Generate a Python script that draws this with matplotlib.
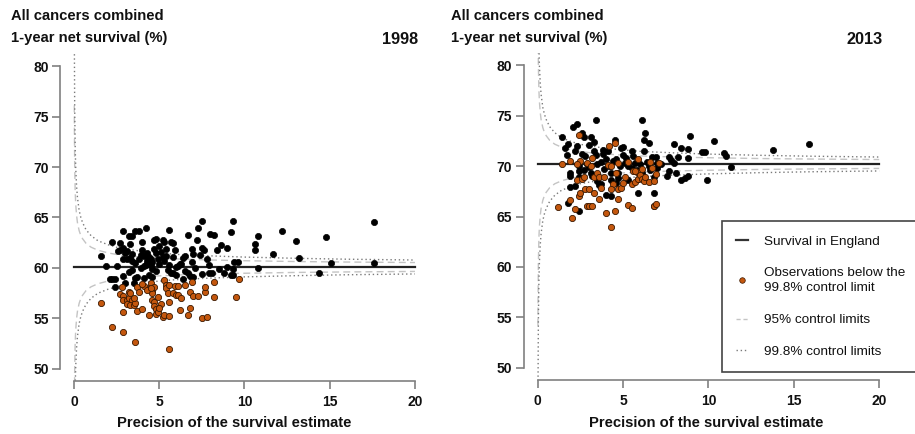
import matplotlib
matplotlib.use('Agg')
import matplotlib.pyplot as plt
from matplotlib.lines import Line2D

plt.rcParams['font.family'] = ['Liberation Sans', 'DejaVu Sans']

# ---- data ----
mean_1998 = 60.1
mean_2013 = 70.2

# precision grid and half-widths of the control limits (read from the funnel)
limit_prec = [0.015, 0.02, 0.04, 0.07, 0.1, 0.15, 0.2, 0.3, 0.4, 0.5, 0.7, 1.0, 1.4,
              2.0, 2.5, 3.0, 4.0, 5.0, 6.0, 8.0, 10.0, 13.0, 16.0, 20.0]
half_998 = [25.2, 21.8, 15.5, 11.7, 9.8, 8.0, 6.9, 5.6, 4.9, 4.4, 3.7, 3.1, 2.6,
            2.2, 1.95, 1.8, 1.55, 1.4, 1.25, 1.1, 0.98, 0.86, 0.77, 0.69]
half_95 = [16.0, 13.9, 9.8, 7.4, 6.2, 5.1, 4.4, 3.6, 3.1, 2.8, 2.35, 1.96, 1.66,
           1.39, 1.24, 1.13, 0.98, 0.88, 0.8, 0.69, 0.62, 0.54, 0.49, 0.44]

prec_1998_ok = [1.6, 1.9, 2.2, 2.5, 2.2, 2.4, 2.4, 2.9, 2.7, 2.7, 2.9, 2.9, 3.1, 2.9, 3.0, 3.1,
                3.2, 3.4, 3.3, 3.4, 3.4, 3.4, 3.6, 3.5, 3.6, 3.8, 4.0, 4.0, 4.2, 3.8, 3.9, 4.1,
                4.1, 4.3, 4.3, 4.4, 4.5, 4.6, 4.7, 4.7, 4.8, 4.8, 4.9, 4.6, 5.0, 5.2, 5.2, 5.3,
                5.6, 5.4, 5.4, 5.6, 5.7, 5.8, 5.9, 5.8, 5.7, 5.8, 6.0, 6.2, 6.3, 6.5, 6.5, 6.4,
                6.7, 6.9, 7.0, 6.9, 6.7, 6.8, 7.0, 7.2, 7.3, 7.5, 7.4, 7.5, 7.6, 7.5, 7.9, 8.0,
                8.2, 7.9, 8.1, 8.4, 8.6, 8.8, 9.0, 9.0, 9.2, 9.3, 9.2, 9.3, 9.3, 9.4, 9.6, 10.6,
                10.6, 10.8, 10.8, 11.7, 12.2, 13.0, 13.2, 14.4, 14.8, 15.1, 17.6, 17.6,
                3.3, 3.6, 4.1, 4.3, 4.5, 4.6, 4.2, 3.9, 5.1, 5.3, 5.5, 6.1, 6.0, 2.6, 3.0, 3.2,
                4.8, 5.0, 6.4, 7.1, 7.8, 8.5, 2.1, 3.7, 4.4]
surv_1998_ok = [61.2, 60.2, 62.6, 60.2, 58.9, 58.9, 58.1, 63.7, 62.5, 61.8, 62.0, 60.9, 60.9, 59.2, 58.5, 61.7,
                63.2, 63.2, 62.4, 61.4, 60.7, 59.8, 59.0, 58.5, 63.7, 63.7, 61.8, 62.6, 64.0, 60.9, 60.0, 60.2,
                59.0, 60.7, 60.4, 61.1, 60.3, 59.9, 61.9, 62.8, 62.9, 61.5, 60.9, 59.1, 60.4, 61.1, 62.8, 62.6,
                63.8, 61.9, 61.2, 60.3, 62.6, 62.5, 61.8, 61.1, 59.5, 59.5, 60.1, 60.4, 60.4, 61.2, 59.7, 58.9,
                63.3, 61.9, 61.4, 60.6, 59.5, 59.2, 59.1, 62.8, 64.0, 64.7, 61.3, 62.0, 61.8, 59.4, 59.5, 63.4,
                63.3, 60.3, 59.5, 61.8, 62.3, 59.5, 62.0, 60.1, 63.6, 64.7, 59.3, 59.3, 59.9, 60.6, 60.6, 62.4,
                61.8, 63.2, 60.0, 61.4, 63.7, 62.7, 61.0, 59.5, 63.1, 60.5, 64.6, 60.5,
                61.0, 60.5, 61.2, 61.5, 60.9, 60.6, 60.3, 61.3, 61.6, 60.7, 59.8, 60.2, 59.3, 61.7, 61.5, 59.6,
                59.7, 62.2, 61.0, 60.0, 60.9, 59.9, 58.9, 59.1, 59.3]

prec_1998_low = [1.6, 2.2, 2.9, 3.6, 5.6, 2.8, 2.7, 2.9, 2.9, 3.1, 3.2, 3.2, 3.3, 3.4, 3.1, 3.3,
                 3.5, 3.6, 2.9, 3.7, 3.7, 3.8, 4.0, 4.1, 4.4, 4.5, 4.5, 4.6, 4.6, 4.6, 4.7, 4.7,
                 4.8, 4.8, 4.9, 4.9, 5.1, 5.2, 5.3, 5.3, 5.4, 5.4, 5.5, 5.6, 5.6, 5.6, 5.8, 5.9,
                 6.0, 6.1, 6.1, 6.2, 6.5, 6.7, 6.8, 6.9, 6.8, 7.0, 7.3, 7.5, 7.8, 7.7, 7.7, 8.2,
                 8.2, 9.5, 9.7, 4.3, 4.7, 4.5, 3.5, 4.0, 5.0, 6.3]
surv_1998_low = [56.5, 54.2, 53.7, 52.7, 52.0, 58.1, 57.4, 57.2, 56.8, 56.8, 57.0, 57.6, 57.5, 56.8, 56.4, 56.3,
                 56.3, 56.5, 55.6, 55.7, 58.1, 57.6, 55.9, 58.2, 55.3, 58.2, 58.5, 57.7, 57.5, 56.8, 56.6, 56.2,
                 55.9, 55.4, 55.6, 57.1, 56.4, 55.1, 55.3, 58.8, 58.3, 58.0, 57.5, 56.6, 55.2, 58.3, 57.5, 58.2,
                 57.3, 57.3, 58.2, 55.8, 58.3, 55.3, 56.0, 58.6, 57.6, 57.2, 57.2, 55.0, 55.1, 57.6, 58.1, 57.1,
                 58.6, 57.1, 58.9, 57.8, 58.1, 58.0, 57.0, 58.4, 56.0, 57.0]

prec_2013_ok = [1.45, 1.6, 1.8, 1.7, 1.9, 1.9, 1.9, 1.8, 2.05, 2.3, 2.3, 2.2, 2.4, 2.4, 2.4, 2.2,
                2.4, 2.6, 2.7, 3.0, 3.1, 3.3, 3.4, 3.3, 3.4, 2.8, 2.9, 2.7, 3.1, 3.2, 3.5, 3.6,
                3.7, 3.8, 3.8, 4.1, 4.0, 3.7, 3.9, 4.2, 4.3, 4.3, 4.5, 4.3, 4.0, 4.6, 4.7, 4.7,
                4.9, 5.0, 5.0, 5.1, 5.2, 5.3, 5.3, 5.5, 5.6, 5.7, 5.9, 5.8, 6.0, 6.1, 6.2, 6.2,
                6.3, 6.5, 6.4, 6.6, 6.7, 6.8, 6.8, 6.9, 7.0, 7.2, 7.6, 7.7, 7.7, 7.8, 8.0, 8.0,
                8.1, 8.2, 8.4, 8.4, 8.6, 8.8, 8.8, 8.9, 8.8, 9.6, 9.8, 9.9, 10.3, 10.9, 11.0, 11.3,
                13.8, 15.9, 4.4, 4.8, 5.5, 6.1, 3.5, 3.0, 6.5, 7.0, 2.6, 4.6, 5.9, 6.8]
surv_2013_ok = [72.9, 71.8, 72.2, 71.1, 69.3, 69.0, 67.9, 66.3, 73.9, 74.2, 72.0, 71.5, 70.0, 69.5, 68.9, 68.0,
                65.5, 73.3, 72.9, 72.1, 72.9, 72.4, 74.6, 71.5, 71.1, 71.0, 70.2, 69.6, 69.3, 69.0, 68.5, 68.1,
                68.2, 71.2, 71.6, 71.5, 70.7, 70.4, 69.7, 70.0, 69.3, 68.6, 72.6, 67.0, 67.1, 70.7, 69.3, 68.8,
                71.8, 71.9, 71.1, 70.3, 70.8, 70.0, 68.6, 71.5, 71.0, 70.3, 67.3, 69.6, 70.2, 74.6, 72.6, 71.5,
                73.3, 72.3, 70.4, 69.6, 70.9, 67.3, 66.0, 70.9, 70.3, 70.2, 69.0, 70.9, 69.5, 70.6, 72.2, 70.3,
                69.3, 70.9, 71.8, 68.6, 68.8, 71.7, 70.8, 73.0, 69.0, 71.4, 71.4, 68.6, 72.5, 71.3, 71.0, 69.9,
                71.6, 72.2, 70.5, 70.0, 69.8, 69.3, 70.2, 69.9, 70.0, 69.8, 71.2, 68.3, 68.7, 68.9]

prec_2013_low = [1.4, 1.2, 2.0, 1.9, 2.2, 2.4, 2.5, 2.4, 2.5, 2.3, 2.3, 2.6, 2.7, 2.8, 2.9, 3.0,
                 3.2, 3.0, 2.9, 3.1, 3.2, 3.3, 3.3, 3.5, 3.6, 3.7, 3.6, 3.9, 4.1, 4.0, 4.3, 4.3,
                 4.2, 4.5, 4.4, 4.3, 4.5, 4.6, 4.7, 4.7, 4.7, 4.9, 5.0, 5.1, 5.3, 5.5, 5.3, 5.5,
                 5.6, 5.7, 5.8, 5.9, 6.0, 6.1, 6.1, 6.2, 6.3, 6.5, 6.6, 6.7, 6.8, 6.9, 6.8, 6.9,
                 7.1, 5.9, 5.7, 1.9]
surv_2013_low = [70.2, 65.9, 64.9, 66.6, 65.7, 67.0, 67.3, 73.1, 70.5, 70.2, 68.6, 68.7, 68.9, 67.7, 66.0, 66.0,
                 66.0, 67.7, 70.3, 70.0, 70.8, 68.9, 67.3, 69.3, 66.7, 67.8, 68.9, 68.9, 70.1, 65.3, 64.0, 70.0,
                 72.0, 72.3, 68.2, 67.7, 65.5, 69.3, 67.7, 66.7, 70.3, 67.8, 68.3, 68.9, 66.1, 65.8, 70.4, 68.2,
                 69.5, 68.4, 69.4, 68.7, 69.1, 68.7, 69.7, 68.5, 68.9, 68.4, 70.4, 69.8, 68.5, 69.2, 66.0, 66.2,
                 70.3, 70.7, 69.5, 70.5]

panels = [
    ('1998', mean_1998, prec_1998_ok, surv_1998_ok, prec_1998_low, surv_1998_low),
    ('2013', mean_2013, prec_2013_ok, surv_2013_ok, prec_2013_low, surv_2013_low),
]

ORANGE = '#C4570E'
TXT = '#111111'
AXC = '#808080'

fig = plt.figure(figsize=(9.15, 4.34), dpi=100)
axes_pos = [[0.0660, 0.1219, 0.4024, 0.7539], [0.5727, 0.1242, 0.4031, 0.7539]]
title_x = [0.012, 0.4929]
year_x = [0.4568, 0.9647]
xlabel_x = [0.2564, 0.7716]

for i, (year, mean, px_ok, sv_ok, px_low, sv_low) in enumerate(panels):
    ax = fig.add_axes(axes_pos[i])
    upper998 = [mean + h for h in half_998]
    lower998 = [mean - h for h in half_998]
    upper95 = [mean + h for h in half_95]
    lower95 = [mean - h for h in half_95]
    ax.plot(limit_prec, upper95, color='#c4c4c4', lw=1.0, ls=(0, (5, 3)))
    ax.plot(limit_prec, lower95, color='#c4c4c4', lw=1.0, ls=(0, (5, 3)))
    ax.plot(limit_prec, upper998, color='#7a7a7a', lw=1.0, ls=(0, (1, 2)))
    ax.plot(limit_prec, lower998, color='#7a7a7a', lw=1.0, ls=(0, (1, 2)))
    ax.plot([0, 20], [mean, mean], color='#222222', lw=1.6)
    ax.scatter(px_ok, sv_ok, s=20, color='black', edgecolors='black', linewidths=0.5, zorder=3)
    ax.scatter(px_low, sv_low, s=20, color=ORANGE, edgecolors='#3a1800', linewidths=0.6, zorder=4)

    ax.set_xlim(-0.8, 20.8)
    ax.set_ylim(48.8, 81.2)
    ax.set_xticks([0, 5, 10, 15, 20])
    ax.set_yticks([50, 55, 60, 65, 70, 75, 80])
    for s in ['top', 'right']:
        ax.spines[s].set_visible(False)
    ax.spines['left'].set_bounds(50, 80)
    ax.spines['bottom'].set_bounds(0, 20)
    for s in ['left', 'bottom']:
        ax.spines[s].set_color(AXC)
        ax.spines[s].set_linewidth(1.2)
    ax.tick_params(axis='both', colors=AXC, width=1.2, length=6, labelcolor=TXT,
                   labelsize=10)
    ax.tick_params(axis='y', pad=2.5)
    ax.tick_params(axis='x', pad=4)
    for lab in ax.get_xticklabels() + ax.get_yticklabels():
        lab.set_fontweight('bold')

    fig.text(title_x[i], 1 - 16 / 434, 'All cancers combined', fontsize=10.6,
             fontweight='bold', color=TXT, ha='left', va='center')
    fig.text(title_x[i], 1 - 38 / 434, '1-year net survival (%)', fontsize=10.6,
             fontweight='bold', color=TXT, ha='left', va='center')
    fig.text(year_x[i], 1 - 40 / 434, year, fontsize=11.7, fontweight='bold',
             color=TXT, ha='right', va='center')
    fig.text(xlabel_x[i], 1 - 423 / 434, 'Precision of the survival estimate',
             fontsize=10.6, fontweight='bold', color=TXT, ha='center', va='center')

handles = [
    Line2D([], [], color='#333333', lw=1.6),
    Line2D([], [], ls='none', marker='o', markersize=4, markerfacecolor=ORANGE,
           markeredgecolor='#3a1800', markeredgewidth=0.5),
    Line2D([], [], color='#c4c4c4', lw=1.0, ls=(0, (3, 2))),
    Line2D([], [], color='#7a7a7a', lw=1.0, ls=(0, (1, 2))),
]
labels = ['Survival in England', 'Observations below the\n99.8% control limit',
          '95% control limits', '99.8% control limits']
leg = fig.legend(handles, labels, loc='upper left',
                 bbox_to_anchor=(721.7 / 915, 1 - 221 / 434),
                 bbox_transform=fig.transFigure, borderaxespad=0,
                 prop={'size': 9.7}, handlelength=0.9, handletextpad=1.2,
                 labelspacing=1.45, borderpad=1.05, fancybox=False, framealpha=1,
                 edgecolor='#444444')
leg.get_frame().set_linewidth(1.2)
for t in leg.get_texts():
    t.set_color(TXT)
    t.set_linespacing(1.35)

fig.savefig('out.png', dpi=100)
